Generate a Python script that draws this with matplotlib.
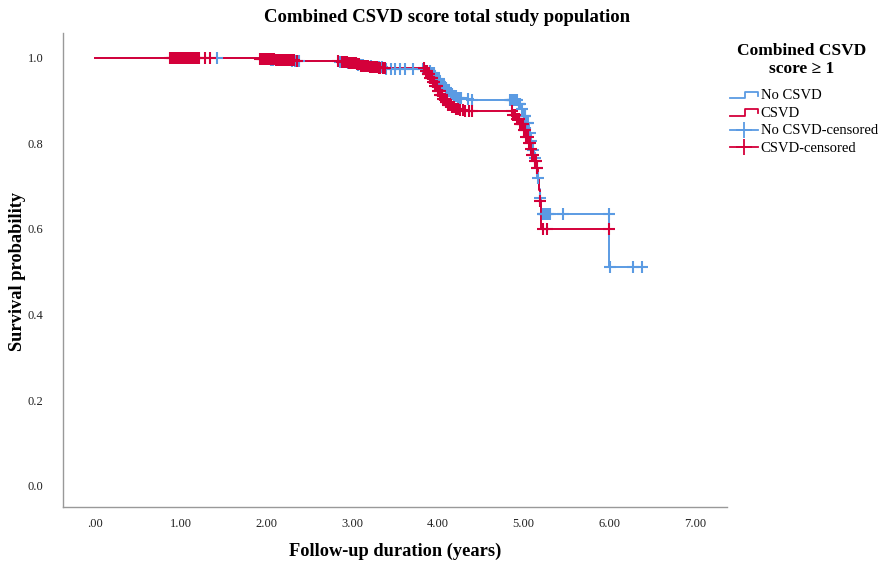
import numpy as np
import matplotlib
matplotlib.use("Agg")
import matplotlib.pyplot as plt
from matplotlib.lines import Line2D
from matplotlib.legend_handler import HandlerBase

plt.rcParams["font.family"] = ["Liberation Serif", "DejaVu Serif"]

# Kaplan-Meier estimates: event times (years) and survival after each step
no_csvd_times = [0.0, 1.95, 2.05, 2.15, 2.3, 2.85, 2.95, 3.05, 3.15, 3.25, 3.4,
                 3.90, 3.93, 3.96, 3.99, 4.02, 4.05, 4.08, 4.11, 4.14, 4.18, 4.22, 4.30, 4.38,
                 4.93, 4.97, 5.00, 5.03, 5.06, 5.08, 5.10, 5.12, 5.14, 5.16, 5.18, 5.19, 5.20,
                 6.00]
no_csvd_surv = [1.0, 0.998, 0.996, 0.994, 0.992, 0.990, 0.987, 0.984, 0.981, 0.978, 0.975,
                0.970, 0.964, 0.957, 0.950, 0.943, 0.936, 0.929, 0.922, 0.916, 0.911, 0.907, 0.904, 0.902,
                0.893, 0.880, 0.865, 0.847, 0.825, 0.805, 0.785, 0.765, 0.743, 0.718, 0.693, 0.672, 0.635,
                0.510]

csvd_times = [0.0, 1.92, 2.0, 2.1, 2.2, 2.35, 2.85, 2.95, 3.0, 3.05, 3.1, 3.15, 3.2, 3.3,
              3.85, 3.88, 3.91, 3.94, 3.97, 4.0, 4.03, 4.06, 4.09, 4.12, 4.16, 4.20, 4.25, 4.32,
              4.88, 4.92, 4.96, 5.00, 5.03, 5.06, 5.08, 5.10, 5.12, 5.15, 5.17, 5.18, 5.19, 5.20]
csvd_surv = [1.0, 0.998, 0.997, 0.995, 0.994, 0.993, 0.991, 0.989, 0.987, 0.985, 0.982, 0.980, 0.978, 0.976,
             0.970, 0.962, 0.953, 0.943, 0.933, 0.923, 0.913, 0.904, 0.896, 0.890, 0.885, 0.881, 0.878, 0.875,
             0.866, 0.856, 0.846, 0.832, 0.816, 0.800, 0.788, 0.773, 0.758, 0.742, 0.716, 0.690, 0.665, 0.600]

# Censoring times (years)
no_csvd_censored = [1.42, 1.96, 2.0, 2.02, 2.05, 2.08, 2.11, 2.14, 2.17, 2.2, 2.23, 2.26, 2.3, 2.33, 2.38,
                    2.86, 2.89, 2.92, 2.95, 2.98, 3.01, 3.04, 3.07, 3.1, 3.13, 3.16, 3.19, 3.22,
                    3.25, 3.28, 3.31, 3.35, 3.4, 3.45, 3.5, 3.56, 3.62,
                    3.71, 3.83, 3.91, 3.93, 3.95, 3.97, 3.99, 4.01, 4.03, 4.05, 4.07, 4.09, 4.11,
                    4.13, 4.15, 4.17, 4.19, 4.21, 4.23, 4.25, 4.27, 4.35, 4.4,
                    4.84, 4.85, 4.86, 4.87, 4.88, 4.89, 4.9, 4.91, 4.92, 4.94, 4.95, 4.96, 4.98,
                    5.0, 5.01, 5.02, 5.04, 5.05, 5.07, 5.09, 5.11, 5.13, 5.15, 5.17, 5.19,
                    5.22, 5.23, 5.24, 5.25, 5.26, 5.28, 5.31, 5.46, 5.99, 6.01, 6.27, 6.38]
csvd_censored = [0.88, 0.9, 0.91, 0.93, 0.94, 0.95, 0.97, 0.98, 0.99, 1.01, 1.02, 1.03, 1.05, 1.06,
                 1.07, 1.09, 1.1, 1.11, 1.13, 1.15, 1.17, 1.19, 1.22, 1.28, 1.34,
                 1.93, 1.95, 1.97, 1.99, 2.01, 2.03, 2.04, 2.06, 2.07, 2.09, 2.11, 2.13, 2.15, 2.17,
                 2.19, 2.21, 2.23, 2.25, 2.28, 2.3, 2.32, 2.36,
                 2.83, 2.88, 2.9, 2.92, 2.94, 2.96, 2.98, 3.0, 3.02, 3.04, 3.06, 3.08, 3.1, 3.12,
                 3.13, 3.15, 3.17, 3.19, 3.21, 3.23, 3.25, 3.27, 3.29, 3.31, 3.33, 3.36, 3.38,
                 3.84, 3.86, 3.87, 3.88, 3.89, 3.9, 3.91, 3.92, 3.93, 3.94, 3.95, 3.96, 3.97,
                 3.98, 3.99, 4.0, 4.01, 4.02, 4.03, 4.04, 4.05, 4.06, 4.07, 4.08, 4.09, 4.1,
                 4.11, 4.12, 4.13, 4.15, 4.17, 4.19, 4.21, 4.23, 4.26, 4.29, 4.32, 4.36, 4.4,
                 4.86, 4.88, 4.9, 4.92, 4.93, 4.94, 4.95, 4.96, 4.97, 4.98, 4.99, 5.0, 5.01,
                 5.02, 5.03, 5.05, 5.06, 5.07, 5.09, 5.1, 5.11, 5.13, 5.14, 5.16, 5.19, 5.22,
                 5.27, 6.0]

BLUE = "#5b9be3"
RED = "#d4003a"


def surv_at(times, surv, t):
    idx = np.searchsorted(times, t, side="right") - 1
    return np.asarray(surv)[idx]


fig = plt.figure(figsize=(8.89, 5.62), dpi=100)
ax = fig.add_axes([63 / 889, 1 - 507 / 562, (727 - 63) / 889, (507 - 33) / 562])

for times, surv, cens, col in [
    (no_csvd_times, no_csvd_surv, no_csvd_censored, BLUE),
    (csvd_times, csvd_surv, csvd_censored, RED),
]:
    t_end = max(max(cens), times[-1])
    xs = list(times) + [t_end]
    ys = list(surv) + [surv[-1]]
    ax.step(xs, ys, where="post", color=col, lw=1.4, zorder=2)
    cy = surv_at(np.array(times), surv, np.array(cens))
    ax.plot(cens, cy, ls="none", marker="+", ms=8, mew=1.5, color=col, zorder=3)

ax.set_xlim(-0.37, 7.37)
ax.set_ylim(-0.05, 1.058)
ax.set_xticks(np.arange(0, 8))
ax.set_xticklabels([".00"] + [f"{v:.2f}" for v in range(1, 8)])
ax.set_yticks(np.arange(0, 1.01, 0.2))
ax.set_yticklabels([f"{v:.1f}" for v in np.arange(0, 1.01, 0.2)])
ax.tick_params(axis="both", length=0, labelsize=9, colors="#222222")
ax.tick_params(axis="x", pad=8)
ax.tick_params(axis="y", pad=14)
for s in ["top", "right"]:
    ax.spines[s].set_visible(False)
for s in ["left", "bottom"]:
    ax.spines[s].set_color("#999999")
    ax.spines[s].set_linewidth(1.0)

fig.text(447 / 889, 1 - 18 / 562, "Combined CSVD score total study population",
         ha="center", va="center", fontsize=13.5, fontweight="bold")
fig.text(395 / 889, 1 - 551 / 562, "Follow-up duration (years)",
         ha="center", va="center", fontsize=13.2, fontweight="bold")
fig.text(18 / 889, 1 - 271 / 562, "Survival probability", rotation=90,
         ha="center", va="center", fontsize=13.2, fontweight="bold")

# Legend heading
fig.text(802 / 889, 1 - 60 / 562, "Combined CSVD\nscore \u2265 1", ha="center", va="center",
         fontsize=12.5, fontweight="bold", linespacing=1.2, multialignment="center")


class StepHandler(HandlerBase):
    def create_artists(self, legend, orig_handle, xdescent, ydescent, width, height,
                       fontsize, trans):
        x0, x1 = -xdescent, -xdescent + width
        xm = x0 + 0.55 * width
        ylo = -ydescent + 0.1 * height
        yhi = -ydescent + 0.75 * height
        line = Line2D([x0, xm, xm, x1, x1], [ylo, ylo, yhi, yhi, ylo + 0.25 * height],
                      color=orig_handle.get_color(), lw=1.3, transform=trans)
        return [line]


class CrossHandler(HandlerBase):
    def create_artists(self, legend, orig_handle, xdescent, ydescent, width, height,
                       fontsize, trans):
        x0, x1 = -xdescent, -xdescent + width
        ym = -ydescent + 0.45 * height
        line = Line2D([x0, x1], [ym, ym], color=orig_handle.get_color(), lw=1.3,
                      transform=trans)
        mark = Line2D([(x0 + x1) / 2], [ym], marker="+", ms=11, mew=1.3, ls="none",
                      color=orig_handle.get_color(), transform=trans)
        return [line, mark]


h_blue = Line2D([], [], color=BLUE)
h_red = Line2D([], [], color=RED)
h_blue_c = Line2D([], [], color=BLUE)
h_red_c = Line2D([], [], color=RED)
leg = fig.legend([h_blue, h_red, h_blue_c, h_red_c],
                 ["No CSVD", "CSVD", "No CSVD-censored", "CSVD-censored"],
                 handler_map={h_blue: StepHandler(), h_red: StepHandler(),
                              h_blue_c: CrossHandler(), h_red_c: CrossHandler()},
                 loc="upper left", bbox_to_anchor=(730 / 889, 1 - 89 / 562), frameon=False,
                 fontsize=10.5, handlelength=1.9, handletextpad=0.2,
                 labelspacing=0.3, borderpad=0.0, borderaxespad=0.0)

fig.savefig("out.png", dpi=100)
